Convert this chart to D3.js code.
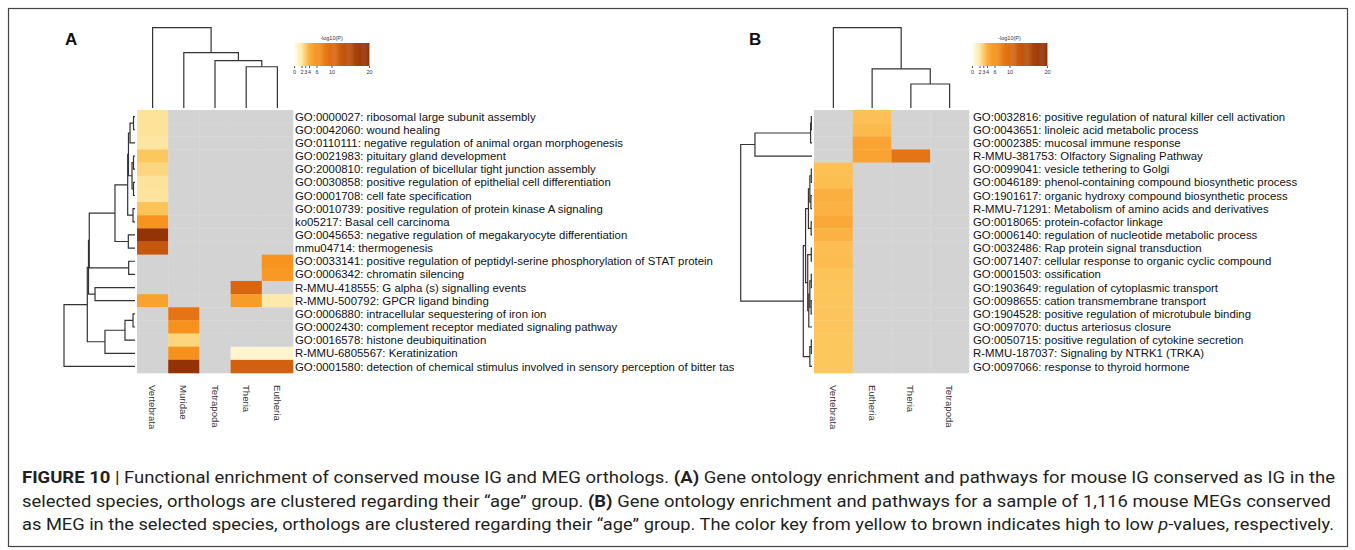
<!DOCTYPE html>
<html>
<head>
<meta charset="utf-8">
<script src="https://cdn.jsdelivr.net/npm/d3@7"></script>
<style>
  body { margin: 0; background: #fff; }
  svg { display: block; }
</style>
</head>
<body>
<div class="chart"></div>
<script>
// --- data: panel A (IG) ---
var colsA = ["Vertebrata", "Muridae", "Tetrapoda", "Theria", "Eutheria"];
var termsA = [
  "GO:0000027: ribosomal large subunit assembly",
  "GO:0042060: wound healing",
  "GO:0110111: negative regulation of animal organ morphogenesis",
  "GO:0021983: pituitary gland development",
  "GO:2000810: regulation of bicellular tight junction assembly",
  "GO:0030858: positive regulation of epithelial cell differentiation",
  "GO:0001708: cell fate specification",
  "GO:0010739: positive regulation of protein kinase A signaling",
  "ko05217: Basal cell carcinoma",
  "GO:0045653: negative regulation of megakaryocyte differentiation",
  "mmu04714: thermogenesis",
  "GO:0033141: positive regulation of peptidyl-serine phosphorylation of STAT protein",
  "GO:0006342: chromatin silencing",
  "R-MMU-418555: G alpha (s) signalling events",
  "R-MMU-500792: GPCR ligand binding",
  "GO:0006880: intracellular sequestering of iron ion",
  "GO:0002430: complement receptor mediated signaling pathway",
  "GO:0016578: histone deubiquitination",
  "R-MMU-6805567: Keratinization",
  "GO:0001580: detection of chemical stimulus involved in sensory perception of bitter taste"
];
// -log10(P), null = not enriched (grey)
var vertebrataA = [2.2, 2.2, 2.1, 3.05, 2.55, 2.2, 2.15, 3.2, 5.9, 19, 13, null, null, null, 5, null, null, null, null, null];
var muridaeA    = [null, null, null, null, null, null, null, null, null, null, null, null, null, null, null, 9, 6.2, 2.6, 6.2, 19.2];
var tetrapodaA  = [null, null, null, null, null, null, null, null, null, null, null, null, null, null, null, null, null, null, null, null];
var theriaA     = [null, null, null, null, null, null, null, null, null, null, null, null, null, 10.8, 5.4, null, null, null, 0.9, 11.5];
var eutheriaA   = [null, null, null, null, null, null, null, null, null, null, null, 6, 5.6, null, 2.0, null, null, null, 0.9, 11.5];

// dendrograms as merge lists: [a, b, height]; negative = leaf (1-based), positive = earlier merge
var rowTreeA = [
  [-1, -2, 0.021], [1, -3, 0.07], [-4, -5, 0.021], [-6, -7, 0.021], [3, 4, 0.042],
  [2, 5, 0.092], [-8, -9, 0.028], [6, 7, 0.103], [-10, -11, 0.094], [8, 9, 0.282],
  [-12, -13, 0.089], [10, 11, 0.644], [-14, -15, 0.563], [12, 13, 0.655],
  [-16, -17, 0.028], [15, -18, 0.141], [16, -19, 0.423], [14, 17, 0.672], [18, -20, 1.0]
];
var colTreeA = [[-4, -5, 0.514], [-3, 1, 0.589], [-2, 2, 0.689], [-1, 3, 1.0]];

// --- data: panel B (MEG) ---
var colsB = ["Vertebrata", "Eutheria", "Theria", "Tetrapoda"];
var termsB = [
  "GO:0032816: positive regulation of natural killer cell activation",
  "GO:0043651: linoleic acid metabolic process",
  "GO:0002385: mucosal immune response",
  "R-MMU-381753: Olfactory Signaling Pathway",
  "GO:0099041: vesicle tethering to Golgi",
  "GO:0046189: phenol-containing compound biosynthetic process",
  "GO:1901617: organic hydroxy compound biosynthetic process",
  "R-MMU-71291: Metabolism of amino acids and derivatives",
  "GO:0018065: protein-cofactor linkage",
  "GO:0006140: regulation of nucleotide metabolic process",
  "GO:0032486: Rap protein signal transduction",
  "GO:0071407: cellular response to organic cyclic compound",
  "GO:0001503: ossification",
  "GO:1903649: regulation of cytoplasmic transport",
  "GO:0098655: cation transmembrane transport",
  "GO:1904528: positive regulation of microtubule binding",
  "GO:0097070: ductus arteriosus closure",
  "GO:0050715: positive regulation of cytokine secretion",
  "R-MMU-187037: Signaling by NTRK1 (TRKA)",
  "GO:0097066: response to thyroid hormone"
];
var vertebrataB = [null, null, null, null, 3.35, 3.45, 4.1, 3.9, 4.5, 3.9, 3.4, 3.5, 3.2, 3.1, 3.1, 3.15, 3.1, 3.05, 3.05, 3.05];
var eutheriaB   = [3.3, 3.6, 4.8, 4.8, null, null, null, null, null, null, null, null, null, null, null, null, null, null, null, null];
var theriaB     = [null, null, null, 9, null, null, null, null, null, null, null, null, null, null, null, null, null, null, null, null];
var tetrapodaB  = [null, null, null, null, null, null, null, null, null, null, null, null, null, null, null, null, null, null, null, null];

var rowTreeB = [
  [-1, -2, 0.01], [1, -3, 0.02], [2, -4, 0.8],
  [-5, -6, 0.01], [-7, -8, 0.015], [4, 5, 0.03], [-9, -10, 0.012], [6, 7, 0.05],
  [-11, -12, 0.01], [-13, -14, 0.01], [-15, -16, 0.012], [10, 11, 0.03], [12, -17, 0.045],
  [9, 13, 0.06], [8, 14, 0.09], [-18, -19, 0.01], [16, -20, 0.03], [15, 17, 0.122], [3, 18, 1.0]
];
var colTreeB = [[-3, -4, 0.299], [-2, 1, 0.486], [-1, 2, 1.0]];

// color key
var keyTicks = [0, 2, 3, 4, 6, 10, 20];
var keyColors = ["#fffef0", "#fde9a9", "#fcc85f", "#fbb040", "#f7931e", "#dd6a12", "#8c2d04"];

var captionLines = [
  [["FIGURE 10", "b"], [" | Functional enrichment of conserved mouse IG and MEG orthologs. ", ""], ["(A)", "b"], [" Gene ontology enrichment and pathways for mouse IG conserved as IG in the", ""]],
  [["selected species, orthologs are clustered regarding their \u201cage\u201d group. ", ""], ["(B)", "b"], [" Gene ontology enrichment and pathways for a sample of 1,116 mouse MEGs conserved", ""]],
  [["as MEG in the selected species, orthologs are clustered regarding their \u201cage\u201d group. The color key from yellow to brown indicates high to low ", ""], ["p", "i"], ["-values, respectively.", ""]]
];

// --- drawing ---
var svgWidth = 1355, svgHeight = 550;
var svg = d3.select(".chart").append("svg")
  .attr("width", svgWidth)
  .attr("height", svgHeight)
  .style("font-family", "'Liberation Sans', Arial, sans-serif");

svg.append("rect")
  .attr("x", 8.5).attr("y", 8.5)
  .attr("width", 1339).attr("height", 538)
  .attr("fill", "none").attr("stroke", "#444").attr("stroke-width", 1.2);

var color = d3.scaleLinear().domain(keyTicks).range(keyColors).clamp(true);
var naColor = "#d3d3d3";

svg.append("defs").append("clipPath").attr("id", "clipA")
  .append("rect").attr("x", 290).attr("y", 100).attr("width", 444).attr("height", 290);

function layoutTree(merges, leafPos) {
  var nodes = [];
  function get(id) { return id < 0 ? { pos: leafPos(-id - 1), h: 0 } : nodes[id - 1]; }
  merges.forEach(function(m) {
    var a = get(m[0]), b = get(m[1]);
    nodes.push({ pos: (a.pos + b.pos) / 2, h: m[2], a: a, b: b });
  });
  return nodes;
}

function drawPanel(p) {
  var g = svg.append("g");
  var rows = d3.range(p.terms.length);
  var y = d3.scaleBand().domain(rows).range([p.top, p.bottom]);
  var x = d3.scaleBand().domain(p.cols).range([p.left, p.right]);

  // heatmap cells
  p.cols.forEach(function(c, ci) {
    g.append("g").selectAll("rect")
      .data(p.values[ci])
      .enter().append("rect")
      .attr("x", x(c))
      .attr("y", function(d, i) { return y(i); })
      .attr("width", x.bandwidth() + 0.3)
      .attr("height", y.bandwidth() + 0.3)
      .attr("fill", function(d) { return d == null ? naColor : color(d); });
  });

  // row labels
  var lab = g.append("g");
  if (p.clip) lab.attr("clip-path", "url(#" + p.clip + ")");
  lab.selectAll("text")
    .data(p.terms)
    .enter().append("text")
    .attr("x", p.right + p.labelGap)
    .attr("y", function(d, i) { return y(i) + y.bandwidth() / 2; })
    .attr("dy", "0.36em")
    .attr("font-size", 11.4)
    .attr("fill", "#111")
    .text(function(d) { return d; });

  // column labels
  g.append("g").selectAll("text")
    .data(p.cols)
    .enter().append("text")
    .attr("transform", function(d) { return "translate(" + (x(d) + x.bandwidth() / 2) + "," + (p.bottom + 12) + ") rotate(90)"; })
    .attr("dominant-baseline", "central")
    .attr("font-size", 9.6)
    .attr("fill", "#333")
    .text(function(d) { return d; });

  // row dendrogram (leaves on the right)
  var hx = d3.scaleLinear().domain([0, 1]).range([p.left - 2, p.rowRoot]);
  var rnodes = layoutTree(p.rowTree, function(i) { return y(i) + y.bandwidth() / 2; });
  g.append("g").selectAll("path")
    .data(rnodes)
    .enter().append("path")
    .attr("d", function(n) {
      return "M" + hx(n.a.h) + "," + n.a.pos + "H" + hx(n.h) + "V" + n.b.pos + "H" + hx(n.b.h);
    })
    .attr("fill", "none").attr("stroke", "#333").attr("stroke-width", 1.2);

  // column dendrogram (leaves at the bottom)
  var hy = d3.scaleLinear().domain([0, 1]).range([p.top - 2, 27.7]);
  var cnodes = layoutTree(p.colTree, function(i) { return x(p.cols[i]) + x.bandwidth() / 2; });
  g.append("g").selectAll("path")
    .data(cnodes)
    .enter().append("path")
    .attr("d", function(n) {
      return "M" + n.a.pos + "," + hy(n.a.h) + "V" + hy(n.h) + "H" + n.b.pos + "V" + hy(n.b.h);
    })
    .attr("fill", "none").attr("stroke", "#333").attr("stroke-width", 1.2);

  // color key
  var kx = d3.scaleLinear().domain([0, 20]).range([p.keyX, p.keyX + 75]);
  var key = g.append("g");
  key.selectAll("rect")
    .data(d3.range(0, 20, 0.25))
    .enter().append("rect")
    .attr("x", function(d) { return kx(d); })
    .attr("y", 43)
    .attr("width", kx(0.25) - kx(0) + 0.4)
    .attr("height", 23)
    .attr("fill", function(d) { return color(d + 0.125); });
  var ax = key.append("g")
    .attr("transform", "translate(0,66)")
    .call(d3.axisBottom(kx).tickValues(keyTicks).tickSize(2).tickFormat(d3.format("d")));
  ax.select(".domain").remove();
  ax.selectAll("text").attr("font-size", 5.5).attr("fill", "#333").attr("dy", "0.5em");
  ax.selectAll("line").attr("stroke", "#555");
  key.append("text")
    .attr("x", kx(10)).attr("y", 40)
    .attr("text-anchor", "middle")
    .attr("font-size", 5.5).attr("fill", "#333")
    .text("-log10(P)");

  // panel letter
  svg.append("text")
    .attr("x", p.letterX).attr("y", 45)
    .attr("font-size", 17).attr("font-weight", "bold")
    .attr("fill", "#111")
    .text(p.letter);
}

drawPanel({
  letter: "A", letterX: 65,
  cols: colsA, terms: termsA,
  values: [vertebrataA, muridaeA, tetrapodaA, theriaA, eutheriaA],
  rowTree: rowTreeA, colTree: colTreeA,
  left: 137, right: 293, top: 110, bottom: 373,
  rowRoot: 64, keyX: 294, clip: "clipA", labelGap: 2
});

drawPanel({
  letter: "B", letterX: 749,
  cols: colsB, terms: termsB,
  values: [vertebrataB, eutheriaB, theriaB, tetrapodaB],
  rowTree: rowTreeB, colTree: colTreeB,
  left: 814, right: 969, top: 110, bottom: 373,
  rowRoot: 740.7, keyX: 972, labelGap: 4
});

// caption
var capY = [483, 507, 530];
var capEnd = [1335, 1331, 1334];
captionLines.forEach(function(line, li) {
  var t = svg.append("text")
    .attr("x", 22).attr("y", capY[li])
    .attr("font-family", "Roboto, 'Open Sans', sans-serif")
    .attr("font-size", 16.5)
    .attr("fill", "#231f20")
    .attr("textLength", capEnd[li] - 22)
    .attr("lengthAdjust", "spacingAndGlyphs");
  line.forEach(function(seg) {
    t.append("tspan")
      .attr("font-weight", seg[1] === "b" ? "bold" : null)
      .attr("font-style", seg[1] === "i" ? "italic" : null)
      .text(seg[0]);
  });
});
</script>
</body>
</html>
